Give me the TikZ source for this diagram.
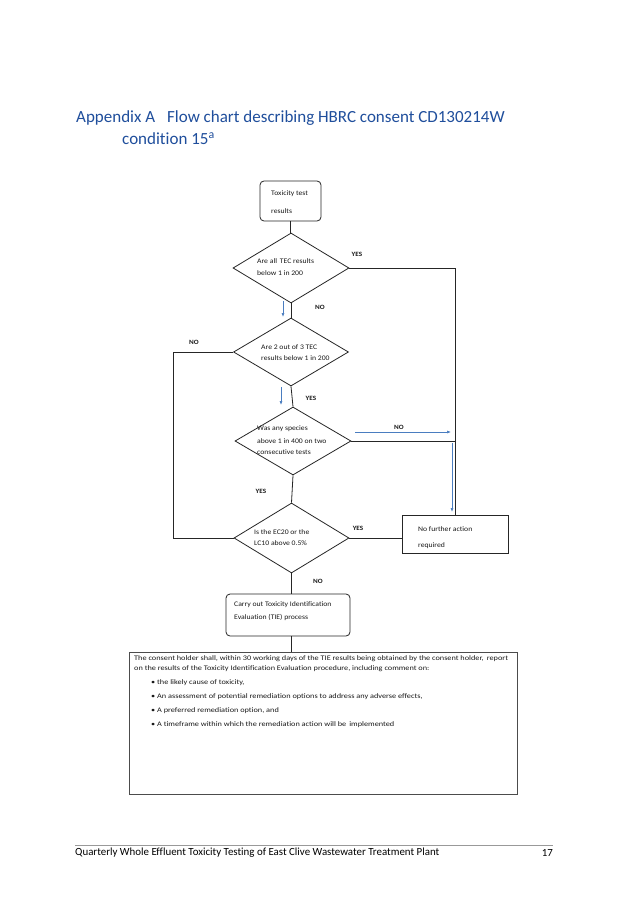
\documentclass[tikz,border=0pt]{standalone}
\usepackage{fontspec}
\setmainfont{Carlito}[Ligatures=NoCommon]
\newfontfamily\fcfont{Carlito}[FakeStretch=1.1, Ligatures=NoCommon]
\newfontfamily\btfont{Carlito}[FakeStretch=1.18, Ligatures=NoCommon]
\usetikzlibrary{shapes.geometric,arrows.meta}
\definecolor{titleblue}{HTML}{1F4E9C}
\definecolor{arrowblue}{HTML}{4A7DC0}
\begin{document}
\begin{tikzpicture}[x=1pt,y=-1pt,
  fc/.style={font=\fcfont\fontsize{7}{8}\selectfont, inner sep=0, anchor=west, text=black!90},
  bt/.style={font=\btfont\fontsize{7}{8}\selectfont, inner sep=0, anchor=west, text=black!90},
  dia/.style={draw=black!85, diamond, inner sep=0, line width=0.8pt},
  rbox/.style={draw=black!85, rounded corners=4pt, line width=0.8pt},
  sbox/.style={draw=black!85, line width=0.8pt},
  lab/.style={font=\fcfont\bfseries\fontsize{6.5}{7}\selectfont, inner sep=0, text=black!90},
  conn/.style={line width=0.8pt, draw=black!85},
  barrow/.style={draw=arrowblue, line width=0.6pt, -{Latex[length=4pt,width=3pt]}},
  ttl/.style={font=\fontsize{17}{20}\selectfont, text=titleblue, inner sep=0, anchor=west},
  foot/.style={font=\fontsize{10.9}{12}\selectfont, inner sep=0, anchor=west}
]
\fill[white] (0,0) rectangle (637,901);
\useasboundingbox (0,0) rectangle (637,901);

% title
\node[ttl] (title1) at (76,118) {Appendix A\hspace{12pt}Flow chart describing HBRC consent CD130214W};
\node[ttl] (title2) at (122,139) {condition 15\textsuperscript{a}};

% nodes
\node[rbox, minimum width=61pt, minimum height=40pt] (start) at (290.5,201) {};
\node[fc] (s1) at (271,194) {Toxicity test};
\node[fc] (s2) at (271,211) {results};

\node[dia, minimum width=116pt, minimum height=70pt] (d1) at (291,268) {};
\node[fc] (d1a) at (257,261) {Are all\, TEC results};
\node[fc] (d1b) at (257,273) {below 1 in 200};

\node[dia, minimum width=115pt, minimum height=68pt] (d2) at (291,352) {};
\node[fc] (d2a) at (261,347) {Are 2 out of 3 TEC};
\node[fc] (d2b) at (261,358) {results below 1 in 200};

\node[dia, minimum width=116pt, minimum height=68pt] (d3) at (293,441) {};
\node[fc] (d3a) at (257,429) {Was any species};
\node[fc] (d3b) at (257,441) {above 1 in 400 on two};
\node[fc] (d3c) at (257,452) {consecutive tests};

\node[dia, minimum width=115pt, minimum height=70pt] (d4) at (291.5,538) {};
\node[fc] (d4a) at (254,532) {Is the EC20 or the};
\node[fc] (d4b) at (254,543) {LC10 above 0.5\%};

\node[sbox, minimum width=106pt, minimum height=38pt] (nfa) at (455,534) {};
\node[fc] (n1) at (418,529) {No further action};
\node[fc] (n2) at (418,546) {required};

\node[rbox, minimum width=124pt, minimum height=42pt] (tie) at (288,615) {};
\node[fc] (e1) at (234,605) {Carry out Toxicity Identification};
\node[fc] (e2) at (234,617) {Evaluation (TIE) process};

\node[draw=black!70, line width=1pt, minimum width=388pt, minimum height=142pt] (big) at (323,723) {};
\node[bt] (b1) at (134,659) {The consent holder shall, within 30 working days of the TIE results being obtained by the consent holder,\, report};
\node[bt] (b2) at (134,669) {on the results of the Toxicity Identification Evaluation procedure, including comment on:};
\node[bt] (b3) at (151,683) {\textbullet\ the likely cause of toxicity,};
\node[bt] (b4) at (151,697) {\textbullet\ An assessment of potential remediation options to address any adverse effects,};
\node[bt] (b5) at (151,711) {\textbullet\ A preferred remediation option, and};
\node[bt] (b6) at (151,725) {\textbullet\ A timeframe within which the remediation action will be\, implemented};

% labels
\node[lab] (l1) at (357,254) {YES};
\node[lab] (l2) at (320,307) {NO};
\node[lab] (l3) at (194,342) {NO};
\node[lab] (l4) at (311,398) {YES};
\node[lab] (l5) at (399,427) {NO};
\node[lab] (l6) at (261,491) {YES};
\node[lab] (l7) at (358,528) {YES};
\node[lab] (l8) at (318,581) {NO};

% connectors
\draw[conn] (start.south) -- (start.south |- d1.north);
\draw[conn] (d1.south) -- (d1.south |- d2.north);
\draw[conn] (d2.south) -- (d3.north);
\draw[conn] (d3.south) -- (d4.north);
\draw[conn] (d4.south) -- (d4.south |- tie.north);
\draw[conn] (tie.south -| d4.south) -- (d4.south |- big.north);
\draw[conn] (d1.east) -| (nfa.north);
\draw[conn] (d3.east) -- (d3.east -| nfa.north);
\draw[conn] (d4.east) -- (d4.east -| nfa.west);
\draw[conn] (d2.west) -- ++(-60,0) coordinate (lc) |- (d4.west);

% blue arrows
\coordinate (ba1s) at (283,301); \coordinate (ba1e) at (283,317);
\coordinate (ba2s) at (281,387); \coordinate (ba2e) at (281,405);
\coordinate (ba3s) at (355,432); \coordinate (ba3e) at (451,432);
\coordinate (ba4s) at (452,443); \coordinate (ba4e) at (452,512);
\draw[barrow] (ba1s) -- (ba1e);
\draw[barrow] (ba2s) -- (ba2e);
\draw[barrow] (ba3s) -- (ba3e);
\draw[barrow] (ba4s) -- (ba4e);

% footer
\coordinate (fl1) at (75,845); \coordinate (fl2) at (553,845);
\draw[black!40, line width=0.8pt] (fl1) -- (fl2);
\node[foot] (f1) at (75,853) {Quarterly Whole Effluent Toxicity Testing of East Clive Wastewater Treatment Plant};
\node[foot, anchor=east] (f2) at (553,853) {17};
\end{tikzpicture}
\end{document}
